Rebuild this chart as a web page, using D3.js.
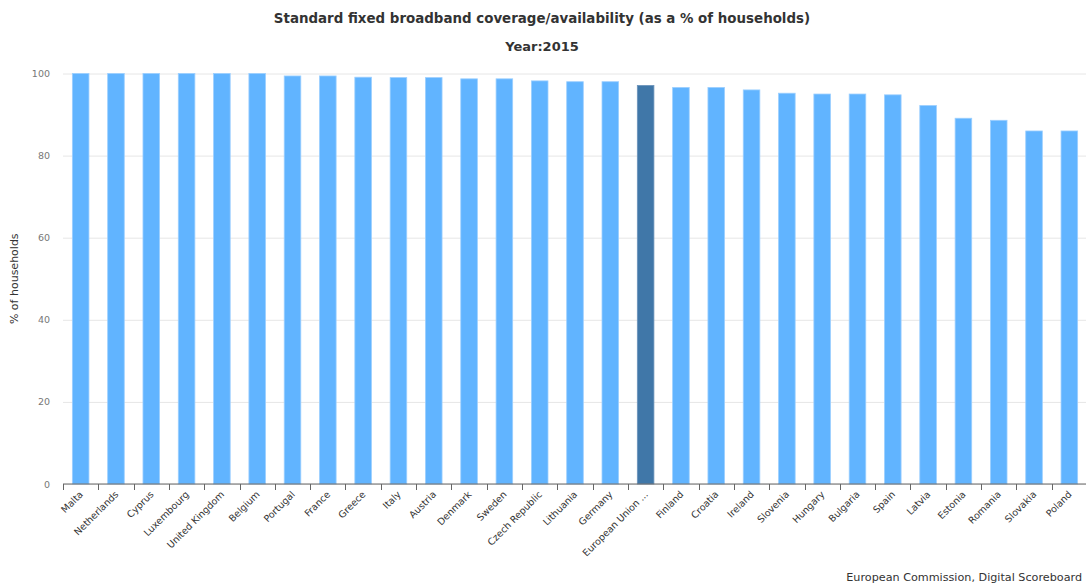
<!DOCTYPE html>
<html>
<head>
<meta charset="utf-8">
<script src="https://cdn.jsdelivr.net/npm/d3@7"></script>
<style>
  body { margin: 0; background: #fff; }
  svg { display: block; }
</style>
</head>
<body>
<svg id="chart"></svg>
<script>
const countries = ['Malta', 'Netherlands', 'Cyprus', 'Luxembourg', 'United Kingdom', 'Belgium', 'Portugal',
  'France', 'Greece', 'Italy', 'Austria', 'Denmark', 'Sweden', 'Czech Republic', 'Lithuania', 'Germany',
  'European Union ...', 'Finland', 'Croatia', 'Ireland', 'Slovenia', 'Hungary', 'Bulgaria', 'Spain',
  'Latvia', 'Estonia', 'Romania', 'Slovakia', 'Poland']
const coverage = [100, 100, 100, 100, 100, 100, 99.4, 99.4, 99.1, 99.0, 99.0, 98.7, 98.7, 98.2, 98.0, 98.0,
  97.1, 96.6, 96.6, 96.0, 95.2, 95.0, 95.0, 94.8, 92.2, 89.1, 88.6, 86.0, 86.0]
const highlight = 'European Union ...'
const yTicks = [0, 20, 40, 60, 80, 100]

const width = 1086
const height = 584
const margin = { top: 73.5, right: -1, bottom: 100, left: 63 }

const svg = d3.select('#chart').attr('width', width).attr('height', height)

const x = d3.scaleBand()
  .domain(countries)
  .range([margin.left, width - margin.right])
  .paddingInner(0.53)
  .paddingOuter(0.265)

const y = d3.scaleLinear()
  .domain([0, 100])
  .range([height - margin.bottom, margin.top])

const font = 'DejaVu Sans, sans-serif'

// titles
svg.append('text')
  .attr('x', 542).attr('y', 23)
  .attr('text-anchor', 'middle')
  .attr('font-family', font)
  .attr('font-weight', 'bold')
  .attr('font-size', 13.4)
  .attr('fill', '#333')
  .text('Standard fixed broadband coverage/availability (as a % of households)')

svg.append('text')
  .attr('x', 542).attr('y', 51)
  .attr('text-anchor', 'middle')
  .attr('font-family', font)
  .attr('font-weight', 'bold')
  .attr('font-size', 13)
  .attr('fill', '#333')
  .text('Year:2015')

// grid + y labels
const yAxis = svg.append('g')
  .attr('transform', `translate(${margin.left},0)`)
  .call(d3.axisLeft(y).tickValues(yTicks).tickSize(-(width - margin.left)).tickPadding(13))

yAxis.select('.domain').remove()
yAxis.selectAll('.tick line').attr('stroke', '#e6e6e6')
yAxis.selectAll('.tick text')
  .attr('fill', '#777')
  .attr('font-family', font)
  .attr('font-size', 9.5)

svg.append('text')
  .attr('transform', `translate(18,${y(50)}) rotate(-90)`)
  .attr('text-anchor', 'middle')
  .attr('font-family', font)
  .attr('font-size', 11)
  .attr('fill', '#333')
  .text('% of households')

// bars
svg.append('g')
  .selectAll('rect')
  .data(countries)
  .join('rect')
  .attr('x', d => x(d))
  .attr('width', x.bandwidth())
  .attr('y', (d, i) => y(coverage[i]))
  .attr('height', (d, i) => y(0) - y(coverage[i]))
  .attr('fill', d => d === highlight ? '#4077a8' : '#61b4ff')
  .attr('stroke', d => d === highlight ? '#6d94bb' : '#9ccfff')
  .attr('stroke-width', 0.8)

// x axis
const gap = (x.step() - x.bandwidth()) / 2
const xAxis = svg.append('g').attr('transform', `translate(0,${y(0)})`)

xAxis.append('line')
  .attr('x1', margin.left).attr('x2', width)
  .attr('stroke', '#666').attr('stroke-width', 1)

xAxis.selectAll('.tk')
  .data(countries)
  .join('line')
  .attr('class', 'tk')
  .attr('x1', d => Math.round(x(d) - gap) + 0.5)
  .attr('x2', d => Math.round(x(d) - gap) + 0.5)
  .attr('y1', 0).attr('y2', 6)
  .attr('stroke', '#666')

xAxis.selectAll('.lbl')
  .data(countries)
  .join('text')
  .attr('class', 'lbl')
  .attr('transform', d => `translate(${x(d) + x.bandwidth() / 2 + 3},11) rotate(-45)`)
  .attr('text-anchor', 'end')
  .attr('font-family', font)
  .attr('font-size', 9.5)
  .attr('fill', '#333')
  .text(d => d)

// source
svg.append('text')
  .attr('x', 1082).attr('y', 581)
  .attr('text-anchor', 'end')
  .attr('font-family', font)
  .attr('font-size', 11.2)
  .attr('fill', '#333')
  .text('European Commission, Digital Scoreboard')
</script>
</body>
</html>
